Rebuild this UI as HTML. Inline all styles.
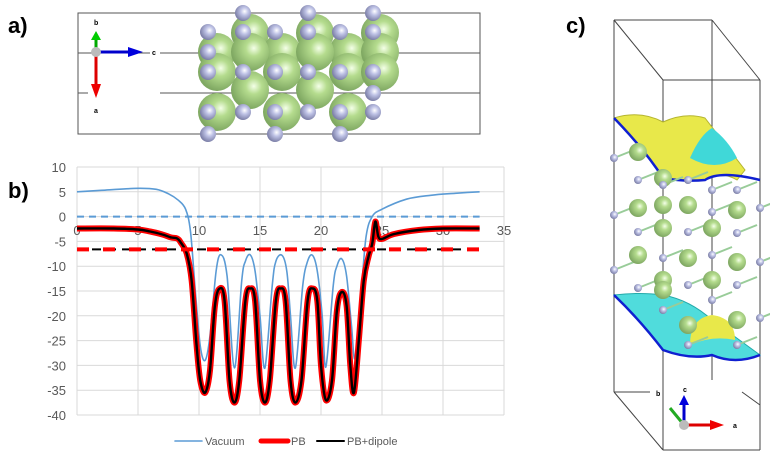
<!DOCTYPE html>
<html><head><meta charset="utf-8"><style>
html,body{margin:0;padding:0;background:#fff;}
#root{position:relative;width:770px;height:464px;overflow:hidden;font-family:"Liberation Sans",sans-serif;}
svg{position:absolute;left:0;top:0;}
</style></head><body>
<div id="root">
<svg id="s" width="770" height="464">
<defs>
<radialGradient id="gg" cx="0.6" cy="0.4" r="0.6"><stop offset="0" stop-color="#f4ffe8"/><stop offset="0.35" stop-color="#b5dc8e"/><stop offset="1" stop-color="#7fa862"/></radialGradient>
<radialGradient id="gy" cx="0.6" cy="0.4" r="0.6"><stop offset="0" stop-color="#ffffff"/><stop offset="0.4" stop-color="#bfc3e6"/><stop offset="1" stop-color="#7d80a8"/></radialGradient>
</defs>
<text x="8" y="33" font-size="22" font-weight="bold" fill="#000">a)</text>
<text x="8" y="198" font-size="22" font-weight="bold" fill="#000">b)</text>
<text x="566" y="33" font-size="22" font-weight="bold" fill="#000">c)</text>
<g id="pa">
<rect x="78" y="13" width="402" height="121" fill="none" stroke="#555" stroke-width="1"/>
<line x1="78" y1="53" x2="150" y2="53" stroke="#555"/><line x1="160" y1="53" x2="480" y2="53" stroke="#555"/>
<line x1="78" y1="93" x2="88" y2="93" stroke="#555"/><line x1="160" y1="93" x2="480" y2="93" stroke="#555"/>
</g>
<g id="pc"></g>
<g id="chart"></g>
</svg>
</div>
<script>
const xTicks=[0,5,10,15,20,25,30,35];
const yTicks=[10,5,0,-5,-10,-15,-20,-25,-30,-35,-40];
const vacX=[0,2,5,6.5,7.5,8.3,8.9,9.3,9.7,10.1,10.5,10.9,11.4,11.8,12.3,12.9,13.5,13.8,14.2,14.6,15,15.4,16,16.3,16.8,17.2,17.5,17.9,18.5,18.9,19.3,19.7,20.1,20.4,21,21.3,21.7,22.1,22.5,22.8,23.3,23.7,24.2,25,27,29,31,33];
const vacY=[5,5.3,5.7,5.5,4.6,3.3,1.5,-3,-15,-26,-29,-24,-11,-7.7,-12,-30.5,-13,-9,-7.7,-11,-20,-30.5,-14,-9,-7.8,-11,-20,-30.5,-14,-9,-7.8,-11,-20,-30.3,-14,-10,-8.5,-12,-22,-28.5,-15,-4,0,1.5,3.5,4.3,4.7,5];
const pbX=[0,3,5,6,7,7.7,8.2,8.5,9,9.4,9.8,10.1,10.5,10.9,11.3,11.7,12.1,12.5,12.9,13.3,13.8,14.2,14.6,15,15.4,15.8,16.3,16.7,17.1,17.5,17.9,18.4,18.9,19.3,19.7,20,20.4,20.9,21.3,21.7,22.1,22.4,22.7,23.1,23.5,23.9,24.2,24.45,24.7,25,26,28,30,33];
const pbY=[-2.4,-2.4,-2.6,-3,-3.6,-4.2,-4.4,-5.2,-7.5,-13,-26,-33,-35.5,-31,-18,-14.5,-17,-33,-37.5,-33,-17,-14.5,-17,-33,-37.5,-33,-17,-14.5,-17,-33,-37.5,-33,-17,-14.5,-17,-30,-37,-33,-19,-15.2,-18,-30,-35.5,-25,-13,-8,-5.5,-1,-4,-4.5,-3.5,-2.7,-2.4,-2.4];
const dashLevel=[-6.6];
const vacRef=[0];
const NS="http://www.w3.org/2000/svg";
function mk(p,t,a){const e=document.createElementNS(NS,t);for(const k in a)e.setAttribute(k,a[k]);p.appendChild(e);return e;}
const X0=77,X1=504,Y0=167,Y1=415;
const sx=v=>X0+(v-0)/(35-0)*(X1-X0);
const sy=v=>Y0+(10-v)/(50)*(Y1-Y0);
function spline(xs,ys){let pts=xs.map((x,i)=>[sx(x),sy(ys[i])]);let d="M"+pts[0][0].toFixed(1)+","+pts[0][1].toFixed(1);
for(let i=0;i<pts.length-1;i++){const p0=pts[Math.max(0,i-1)],p1=pts[i],p2=pts[i+1],p3=pts[Math.min(pts.length-1,i+2)];
const c1=[p1[0]+(p2[0]-p0[0])/6,p1[1]+(p2[1]-p0[1])/6],c2=[p2[0]-(p3[0]-p1[0])/6,p2[1]-(p3[1]-p1[1])/6];
d+=" C"+c1.map(v=>v.toFixed(1))+" "+c2.map(v=>v.toFixed(1))+" "+p2.map(v=>v.toFixed(1));}return d;}
const ch=document.getElementById('chart');
yTicks.forEach(t=>{const l=mk(ch,'line',{x1:X0,x2:X1,y1:sy(t),y2:sy(t),stroke:'#d9d9d9','stroke-width':1});

const tx=mk(ch,'text',{x:66,y:sy(t)+5,'text-anchor':'end','font-size':13,fill:'#595959'});tx.textContent=t;
});
xTicks.forEach(t=>{const l=mk(ch,'line',{x1:sx(t),x2:sx(t),y1:Y0,y2:Y1,stroke:'#d9d9d9','stroke-width':1});

const tx=mk(ch,'text',{x:sx(t),y:sy(-2.5)+6,'text-anchor':'middle','font-size':13,fill:'#595959'});tx.textContent=t;
});
vacRef.forEach(v=>{const l=mk(ch,'line',{x1:sx(0),x2:sx(33),y1:sy(v),y2:sy(v),stroke:'#5b9bd5','stroke-width':2,'stroke-dasharray':'7,5'});
});
let p=mk(ch,'path',{d:spline(vacX,vacY),fill:'none',stroke:'#5b9bd5','stroke-width':1.6});

p=mk(ch,'path',{d:spline(pbX,pbY),fill:'none',stroke:'#ff0000','stroke-width':6,'stroke-linejoin':'round'});

p=mk(ch,'path',{d:spline(pbX,pbY),fill:'none',stroke:'#000','stroke-width':2.4});

dashLevel.forEach(v=>{let l=mk(ch,'line',{x1:sx(0),x2:sx(33),y1:sy(v),y2:sy(v),stroke:'#000','stroke-width':2,'stroke-dasharray':'9,6'});

l=mk(ch,'line',{x1:sx(0),x2:sx(33),y1:sy(v),y2:sy(v),stroke:'#ff0000','stroke-width':4,'stroke-dasharray':'12,14'});
});
const leg=[['Vacuum','#5b9bd5',1.6,175,205],['PB','#ff0000',5,261,291],['PB+dipole','#000',2,317,347]];
leg.forEach(L=>{const g=mk(ch,'g',{});
mk(g,'line',{x1:L[3],x2:L[3]+27,y1:441,y2:441,stroke:L[1],'stroke-width':L[2],'stroke-linecap':'round'});
const t=mk(g,'text',{x:L[4],y:445,'font-size':11,fill:'#595959'});t.textContent=L[0];});
const pa=document.getElementById('pa');
const greens=[[250,33],[315,33],[380,33],[217,52],[282,52],[348,52],[250,52],[315,52],[380,52],[217,72],[282,72],[348,72],[250,90],[315,90],[380,72],[217,112],[282,112],[348,112]];
greens.forEach(c=>{mk(pa,'circle',{cx:c[0],cy:c[1],r:19,fill:'url(#gg)'});});
const grays=[[243,13],[308,13],[373,13],[208,32],[243,32],[275,32],[308,32],[340,32],[373,32],[208,52],[208,72],[243,72],[275,72],[308,72],[340,72],[373,72],[373,93],[208,112],[243,112],[275,112],[308,112],[340,112],[373,112],[208,134],[275,134],[340,134]];
grays.forEach(c=>mk(pa,'circle',{cx:c[0],cy:c[1],r:8,fill:'url(#gy)'}));
mk(pa,'line',{x1:96,y1:52,x2:96,y2:38,stroke:'#0a0','stroke-width':3});mk(pa,'polygon',{points:'91,40 101,40 96,31',fill:'#0c0'});
mk(pa,'line',{x1:96,y1:52,x2:96,y2:86,stroke:'#d00','stroke-width':3});mk(pa,'polygon',{points:'91,84 101,84 96,98',fill:'#e00'});
mk(pa,'line',{x1:96,y1:52,x2:130,y2:52,stroke:'#00c','stroke-width':3});mk(pa,'polygon',{points:'128,47 128,57 143,52',fill:'#00d'});
mk(pa,'circle',{cx:96,cy:52,r:5,fill:'#bbb'});
[['b',94,25],['a',94,113],['c',152,55]].forEach(l=>{const t=mk(pa,'text',{x:l[1],y:l[2],'font-size':7,'font-weight':'bold'});t.textContent=l[0];});
const pc=document.getElementById('pc');
const box=[[614,20,712,20],[614,20,663,80],[712,20,760,80],[663,80,760,80],[614,20,614,392],[712,20,712,380],[663,80,663,450],[760,80,760,450],[663,450,760,450],[614,392,663,450],[614,392,650,392],[742,392,760,405]];
box.forEach(b=>mk(pc,'line',{x1:b[0],y1:b[1],x2:b[2],y2:b[3],stroke:'#444','stroke-width':1}));
mk(pc,'path',{d:'M614,118 Q640,110 663,122 Q685,112 705,118 L745,170 L737,180 Q720,170 705,180 Q685,182 663,178 Q645,150 614,118Z',fill:'#e8e84a',stroke:'#b5b530'});
mk(pc,'path',{d:'M614,118 Q645,150 663,178 Q685,182 705,180 Q720,170 760,180',fill:'none',stroke:'#1020d0','stroke-width':2.5});
mk(pc,'path',{d:'M690,158 Q700,135 712,128 Q728,140 737,158 Q715,172 690,158Z',fill:'#40d8d8'});
mk(pc,'path',{d:'M614,295 Q640,292 663,295 Q690,300 712,320 L760,355 Q735,365 712,355 Q690,360 663,350 Q640,320 614,295Z',fill:'#50dcdc',stroke:'#2aa'});
mk(pc,'path',{d:'M614,295 Q640,320 663,350 Q690,360 712,355 Q735,365 760,355',fill:'none',stroke:'#1020d0','stroke-width':2.5});
mk(pc,'path',{d:'M690,345 Q690,318 712,315 Q735,318 735,340 Q712,335 690,345Z',fill:'#e8e84a'});
const cg=[[638,152],[663,178],[638,208],[663,205],[688,205],[737,210],[663,228],[712,228],[638,255],[688,258],[737,262],[663,280],[712,280],[688,325],[737,320],[663,290]];
const cs=[[614,158],[638,180],[663,185],[688,180],[712,190],[737,190],[760,208],[614,215],[712,212],[688,232],[638,232],[737,233],[663,258],[712,255],[614,270],[760,262],[688,285],[638,288],[737,285],[663,310],[712,300],[760,318],[688,345],[737,345]];
cs.forEach(c=>{mk(pc,'line',{x1:c[0],y1:c[1],x2:c[0]+20,y2:c[1]-8,stroke:'#9c9','stroke-width':2});});
cg.forEach(c=>mk(pc,'circle',{cx:c[0],cy:c[1],r:9,fill:'url(#gg)'}));
cs.forEach(c=>mk(pc,'circle',{cx:c[0],cy:c[1],r:4,fill:'url(#gy)'}));
mk(pc,'line',{x1:684,y1:425,x2:670,y2:408,stroke:'#2a2','stroke-width':3});
mk(pc,'line',{x1:684,y1:425,x2:684,y2:404,stroke:'#00c','stroke-width':3});mk(pc,'polygon',{points:'679,405 689,405 684,395',fill:'#00d'});
mk(pc,'line',{x1:684,y1:425,x2:712,y2:425,stroke:'#d00','stroke-width':3});mk(pc,'polygon',{points:'710,420 710,430 724,425',fill:'#e00'});
mk(pc,'circle',{cx:684,cy:425,r:5,fill:'#bbb'});
[['b',656,396],['c',683,392],['a',733,428]].forEach(l=>{const t=mk(pc,'text',{x:l[1],y:l[2],'font-size':7,'font-weight':'bold'});t.textContent=l[0];});
</script>
</body></html>
